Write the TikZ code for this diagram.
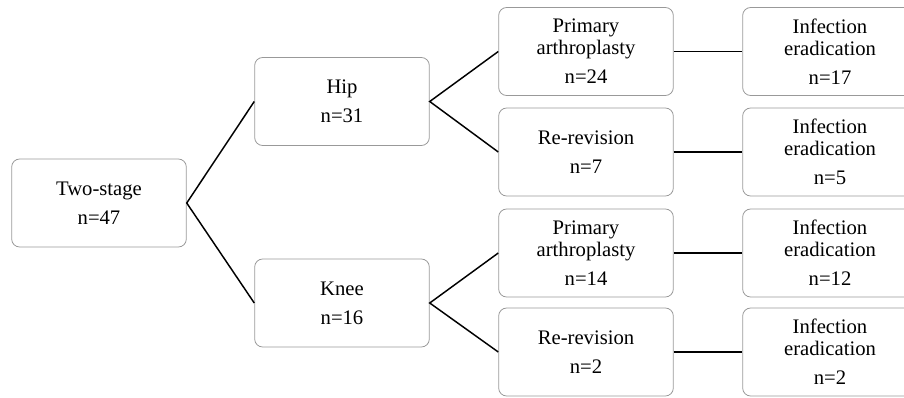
\documentclass[tikz,border=0pt]{standalone}
\usepackage{fontspec}
\setmainfont{Liberation Serif}
\begin{document}
\begin{tikzpicture}[x=0.75pt,y=-0.75pt,
    box/.style={draw=gray!80,line width=0.6pt,rounded corners=6pt,fill=white,
        minimum width=131pt,minimum height=66pt,align=center,
        font=\fontsize{15.5}{21.75}\selectfont},
    link/.style={black,line width=1.1pt}]
                \clip (0,0) rectangle (904,397);
                %\draw [color=gray,dash pattern=on 1pt off 1pt,step=50] (0,0) grid (904,397);
                \node[box] (two) at (99,203) {Two-stage\\n=47};
                \node[box] (hip) at (342,101.5) {Hip\\n=31};
                \node[box] (knee) at (342,303) {Knee\\n=16};
                \node[box] (hipprim) at (586,51.5) {Primary\\[-5.25pt]arthroplasty\\n=24};
                \node[box] (hiprev) at (586,152) {Re-revision\\n=7};
                \node[box] (kneeprim) at (586,253) {Primary\\[-5.25pt]arthroplasty\\n=14};
                \node[box] (kneerev) at (586,352) {Re-revision\\n=2};
                \node[box] (hipprimok) at (830,51.5) {Infection\\[-5.25pt]eradication\\n=17};
                \node[box] (hiprevok) at (830,152) {Infection\\[-5.25pt]eradication\\n=5};
                \node[box] (kneeprimok) at (830,253) {Infection\\[-5.25pt]eradication\\n=12};
                \node[box] (kneerevok) at (830,352) {Infection\\[-5.25pt]eradication\\n=2};
                \draw[link] (hip.west) -- (two.east) -- (knee.west);
                \draw[link] (hipprim.west) -- (hip.east) -- (hiprev.west);
                \draw[link] (kneeprim.west) -- (knee.east) -- (kneerev.west);
                \foreach \n in {hipprim,hiprev,kneeprim,kneerev}
                \draw[link] (\n.east) -- (\n ok.west);
            \end{tikzpicture}
\end{document}
